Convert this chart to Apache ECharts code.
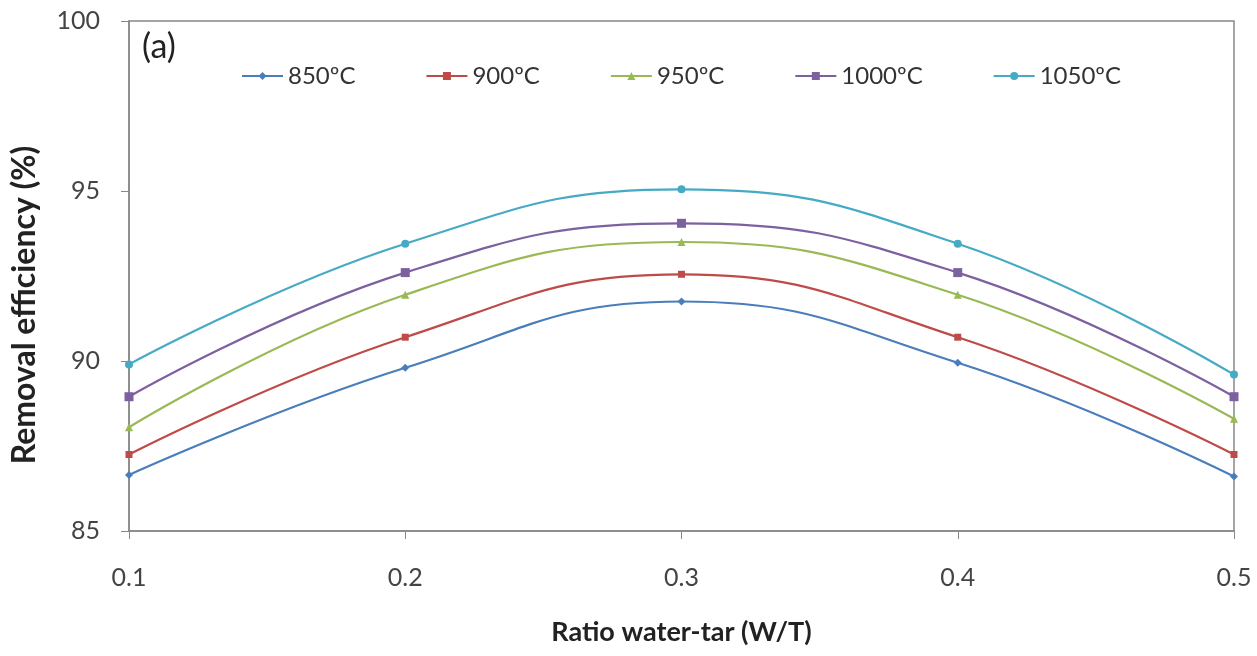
<!DOCTYPE html>
<html>
<head>
<meta charset="utf-8">
<script src="https://cdn.jsdelivr.net/npm/echarts@6/dist/echarts.min.js"></script>
<style>html,body{margin:0;padding:0;background:#fff;}#c{width:1257px;height:656px;}</style>
</head>
<body>
<div id="c"></div>
<script>
const categories = ['0.1', '0.2', '0.3', '0.4', '0.5'];
const seriesNames = ['850ºC', '900ºC', '950ºC', '1000ºC', '1050ºC'];
const s850 = [86.65, 89.8, 91.75, 89.95, 86.6];
const s900 = [87.25, 90.7, 92.55, 90.7, 87.25];
const s950 = [88.05, 91.95, 93.5, 91.95, 88.3];
const s1000 = [88.95, 92.6, 94.05, 92.6, 88.95];
const s1050 = [89.9, 93.45, 95.05, 93.45, 89.6];
const yTicks = [85, 90, 95, 100];

const values = [s850, s900, s950, s1000, s1050];
const colors = ['#4A7EBB', '#BE4B48', '#98B954', '#7D60A0', '#46AAC5'];
const symbols = ['diamond', 'rect', 'triangle', 'rect', 'circle'];
const symSizes = [8, 7, 8, 9, 8];
const font = 'Lato, "Open Sans", sans-serif';

const chart = echarts.init(document.getElementById('c'));
chart.setOption({
  backgroundColor: '#fff',
  animation: false,
  textStyle: { fontFamily: font },
  grid: { left: 129, right: 23, top: 21, bottom: 125, show: true, borderColor: '#888', borderWidth: 1.5, backgroundColor: 'transparent' },
  title: { text: '(a)', left: 142, top: 30, padding: 0, textStyle: { fontFamily: font, fontSize: 34, fontWeight: 'normal', color: '#222' } },
  legend: {
    left: 241, top: 64, itemGap: 70, itemWidth: 41, itemHeight: 10, padding: 0,
    textStyle: { fontFamily: font, fontSize: 24, color: '#333' },
    data: seriesNames
  },
  xAxis: {
    type: 'category', data: categories, boundaryGap: false,
    name: 'Ratio water-tar (W/T)', nameLocation: 'middle', nameGap: 88,
    nameTextStyle: { fontFamily: font, fontSize: 27, fontWeight: 'bold', color: '#222' },
    axisLine: { lineStyle: { color: '#888', width: 1.5 } },
    axisTick: { show: true, inside: false, length: 8, lineStyle: { color: '#888' } },
    axisLabel: { fontFamily: font, fontSize: 25, color: '#444', margin: 34 },
    splitLine: { show: false }
  },
  yAxis: {
    type: 'value', min: 85, max: 100, interval: 5,
    name: 'Removal efficiency (%)', nameLocation: 'middle', nameGap: 88, nameRotate: 90,
    nameTextStyle: { fontFamily: font, fontSize: 32, fontWeight: 'bold', color: '#222', padding: [0, 58, 0, 0] },
    axisLine: { show: true, lineStyle: { color: '#888', width: 1.5 } },
    axisTick: { show: true, length: 8, lineStyle: { color: '#888' } },
    axisLabel: { fontFamily: font, fontSize: 25, color: '#444', margin: 29,
      formatter: v => yTicks.indexOf(v) >= 0 ? String(v) : '' },
    splitLine: { show: false }
  },
  series: seriesNames.map((n, i) => ({
    name: n, type: 'line', data: values[i], smooth: 0.45,
    symbol: symbols[i], symbolSize: symSizes[i],
    lineStyle: { color: colors[i], width: 2.2 },
    itemStyle: { color: colors[i] }
  }))
});
</script>
</body>
</html>
